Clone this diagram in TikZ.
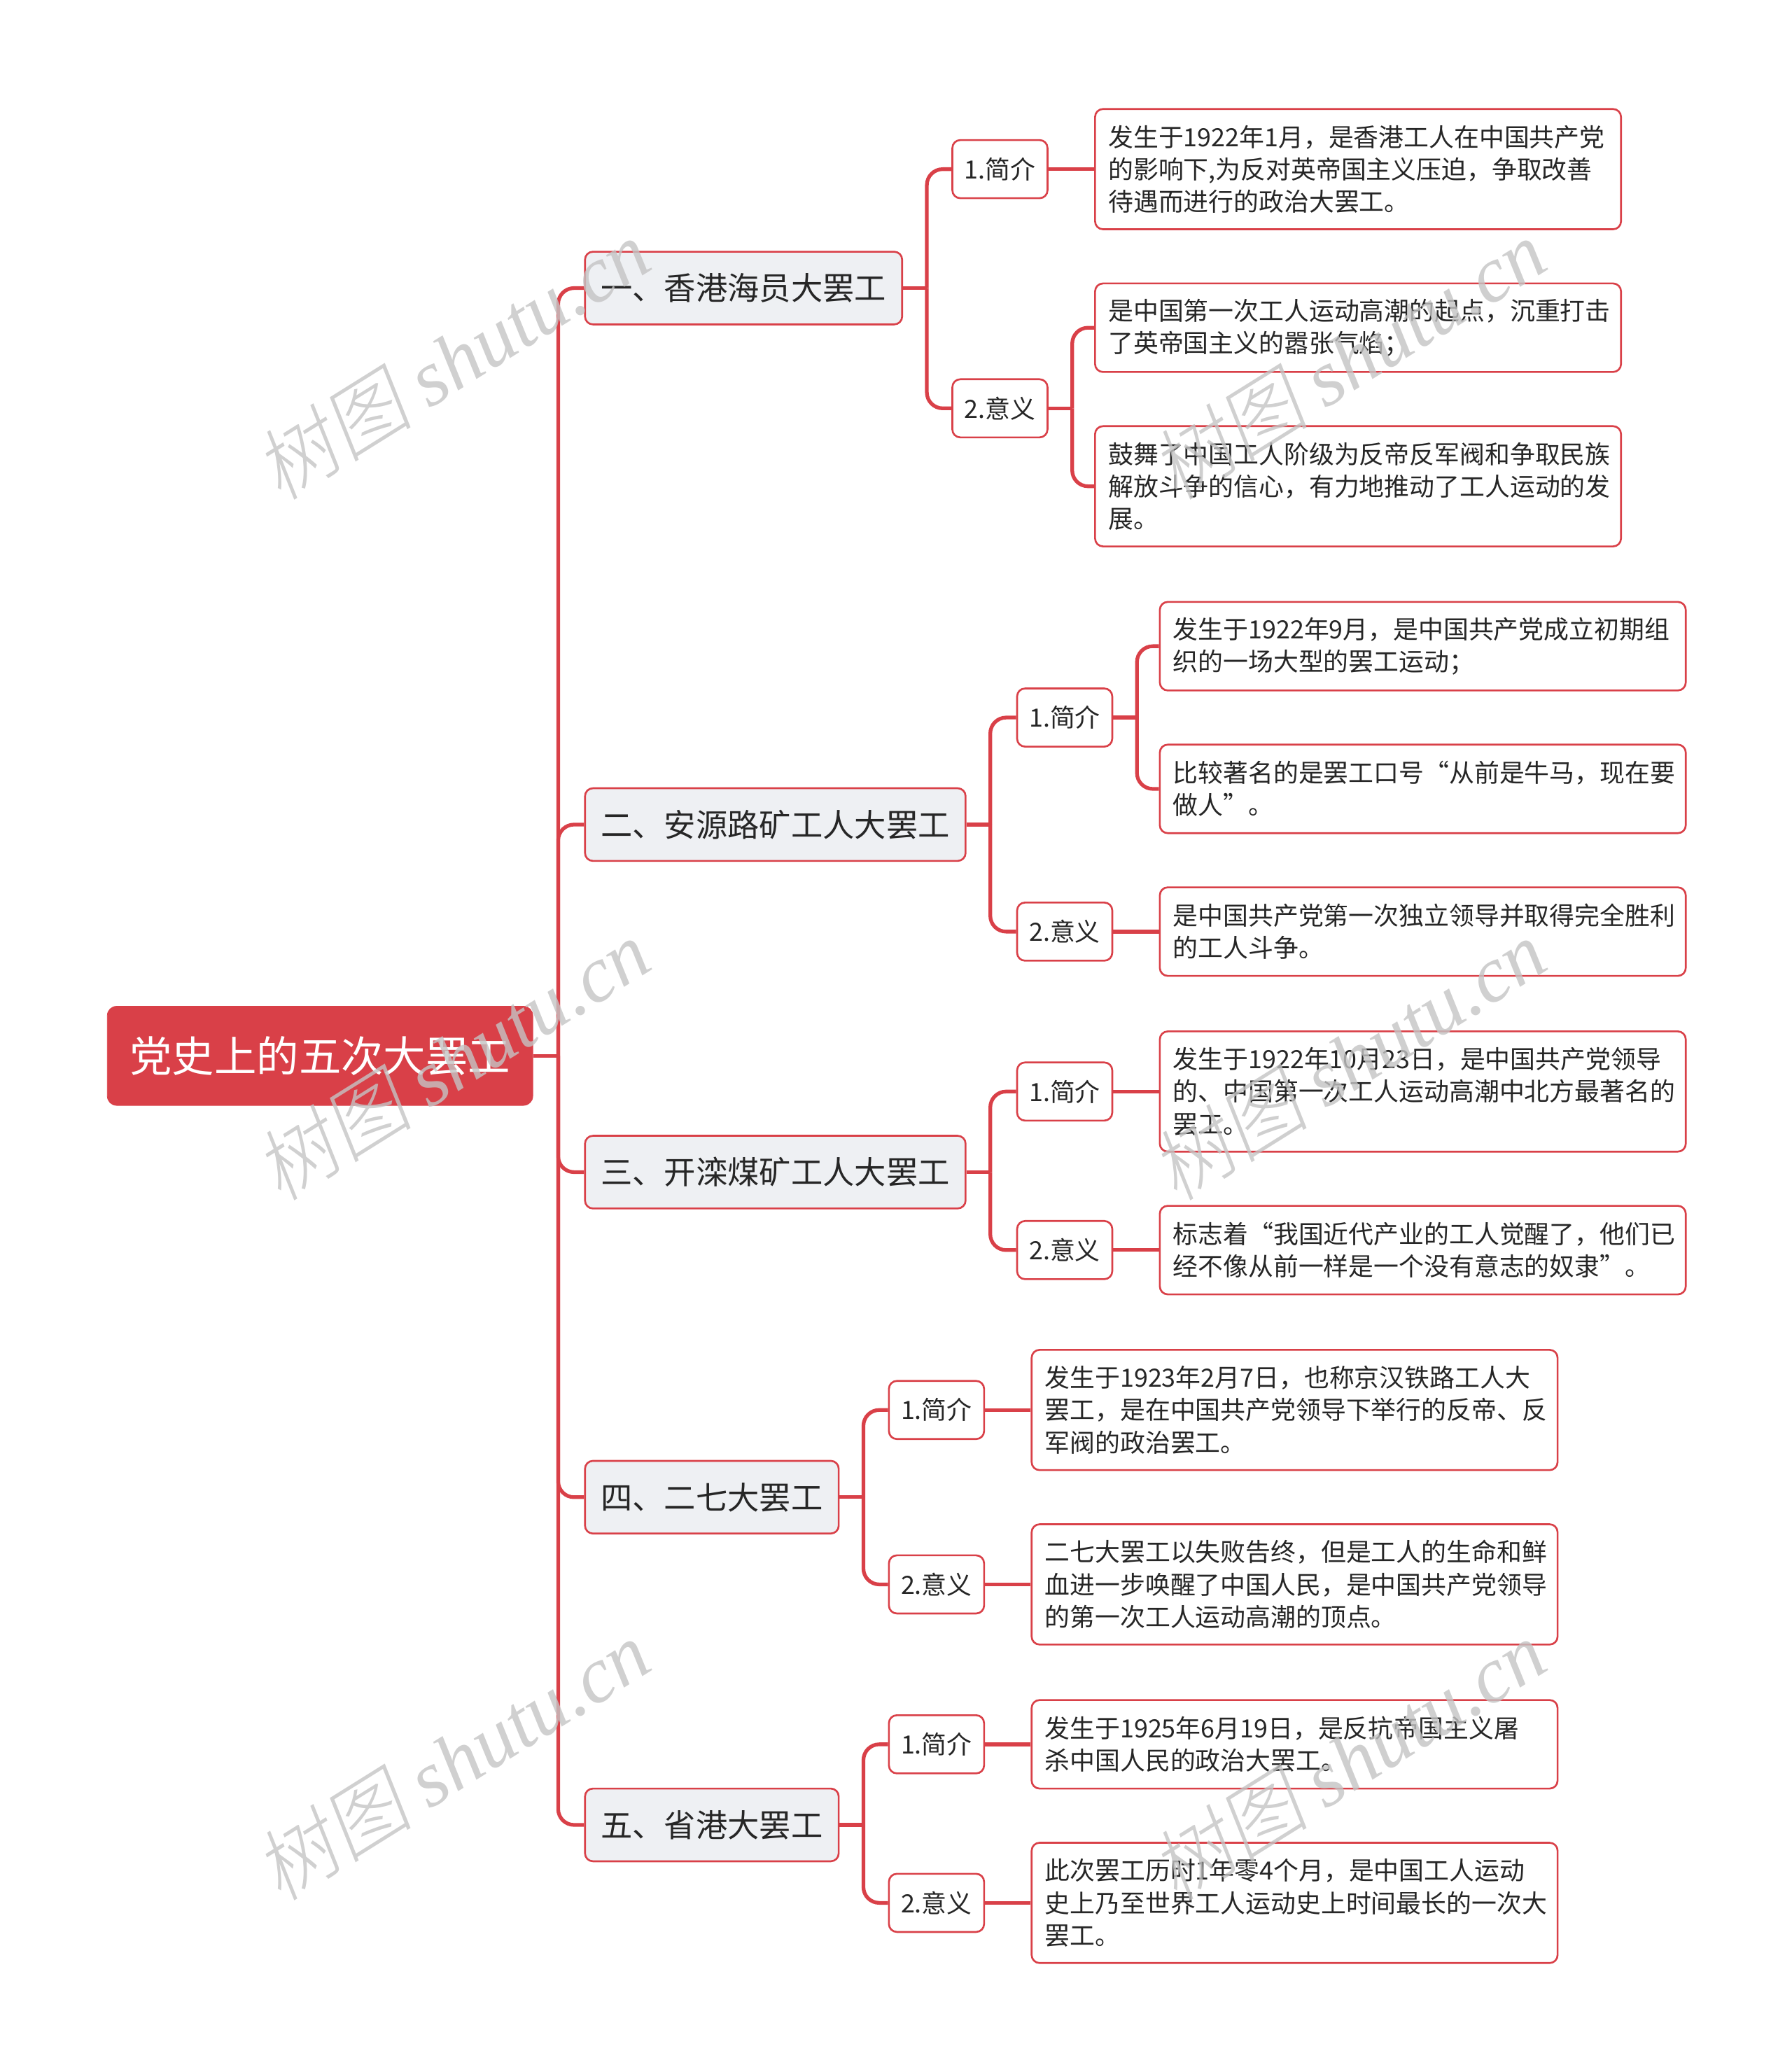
\documentclass[tikz,border=0pt]{standalone}
\usepackage{fontspec}
\setmainfont{Noto Sans CJK SC}
\newfontfamily\wmserif{Liberation Serif Italic}
\newfontfamily\wmcjk[FakeSlant=0.18]{Noto Sans CJK SC Light}
\definecolor{mred}{RGB}{217,64,72}
\definecolor{lgray}{RGB}{238,240,243}
\definecolor{wmgray}{RGB}{196,196,196}
\begin{document}
\begin{tikzpicture}[x=1pt,y=-1pt,
  conn/.style={draw=mred,line width=2.8pt,rounded corners=12pt},
  rootbox/.style={fill=mred,draw=mred,rounded corners=7pt,text=white,
    font=\fontsize{32}{38}\selectfont,minimum height=75pt,inner xsep=17pt,anchor=west},
  lone/.style={fill=lgray,draw=mred,line width=1.4pt,rounded corners=6pt,text=black!85,
    font=\fontsize{24}{28}\selectfont,minimum height=55pt,inner xsep=12pt,anchor=west},
  ltwo/.style={fill=white,draw=mred,line width=1.4pt,rounded corners=6pt,text=black!85,
    font=\fontsize{19}{23}\selectfont,minimum height=44pt,minimum width=72pt,inner xsep=8pt,anchor=west},
  leaf/.style={fill=white,draw=mred,line width=1.4pt,rounded corners=6pt,text=black!85,
    font=\fontsize{19}{24.5}\selectfont,text width=378pt,align=left,
    minimum height=67pt,inner xsep=10pt,inner ysep=6pt,anchor=west},
  leafthree/.style={leaf,minimum height=91pt},
  wm/.style={text=wmgray,font=\fontsize{60}{66}\selectfont,rotate=32,text opacity=0.8}
]
\useasboundingbox (0,0) rectangle (1356,1568);

% root
\node[rootbox] (root) at (81,799) {党史上的五次大罢工};

% level 1
\node[lone] (a) at (442,218) {一、香港海员大罢工};
\node[lone] (b) at (442,624) {二、安源路矿工人大罢工};
\node[lone] (c) at (442,887) {三、开滦煤矿工人大罢工};
\node[lone] (d) at (442,1133) {四、二七大罢工};
\node[lone] (e) at (442,1381) {五、省港大罢工};

% level 2
\node[ltwo] (a1) at (720,128) {1.简介};
\node[ltwo] (a2) at (720,309) {2.意义};
\node[ltwo] (b1) at (769,543) {1.简介};
\node[ltwo] (b2) at (769,705) {2.意义};
\node[ltwo] (c1) at (769,826) {1.简介};
\node[ltwo] (c2) at (769,946) {2.意义};
\node[ltwo] (d1) at (672,1067) {1.简介};
\node[ltwo] (d2) at (672,1199) {2.意义};
\node[ltwo] (e1) at (672,1320) {1.简介};
\node[ltwo] (e2) at (672,1440) {2.意义};

% leaves
\node[leafthree] (a1x) at (828,128) {发生于1922年1月，是香港工人在中国共产党\\的影响下,为反对英帝国主义压迫，争取改善\\待遇而进行的政治大罢工。};
\node[leaf] (a2x) at (828,248) {是中国第一次工人运动高潮的起点，沉重打击\\了英帝国主义的嚣张气焰；};
\node[leafthree] (a2y) at (828,368) {鼓舞了中国工人阶级为反帝反军阀和争取民族\\解放斗争的信心，有力地推动了工人运动的发\\展。};
\node[leaf] (b1x) at (877,489) {发生于1922年9月，是中国共产党成立初期组\\织的一场大型的罢工运动；};
\node[leaf] (b1y) at (877,597) {比较著名的是罢工口号“从前是牛马，现在要\\做人”。};
\node[leaf] (b2x) at (877,705) {是中国共产党第一次独立领导并取得完全胜利\\的工人斗争。};
\node[leafthree] (c1x) at (877,826) {发生于1922年10月23日，是中国共产党领导\\的、中国第一次工人运动高潮中北方最著名的\\罢工。};
\node[leaf] (c2x) at (877,946) {标志着“我国近代产业的工人觉醒了，他们已\\经不像从前一样是一个没有意志的奴隶”。};
\node[leafthree] (d1x) at (780,1067) {发生于1923年2月7日，也称京汉铁路工人大\\罢工，是在中国共产党领导下举行的反帝、反\\军阀的政治罢工。};
\node[leafthree] (d2x) at (780,1199) {二七大罢工以失败告终，但是工人的生命和鲜\\血进一步唤醒了中国人民，是中国共产党领导\\的第一次工人运动高潮的顶点。};
\node[leaf] (e1x) at (780,1320) {发生于1925年6月19日，是反抗帝国主义屠\\杀中国人民的政治大罢工。};
\node[leafthree] (e2x) at (780,1440) {此次罢工历时1年零4个月，是中国工人运动\\史上乃至世界工人运动史上时间最长的一次大\\罢工。};

% connectors: root to level 1
\draw[conn] (root.east) -- ++(19,0) coordinate (rj);
\foreach \n in {a,b,c,d,e} \draw[conn] (rj) |- (\n.west);

% level 1 to level 2
\draw[conn] (a.east) -- ++(18,0) coordinate (aj);
\draw[conn] (aj) |- (a1.west);
\draw[conn] (aj) |- (a2.west);
\draw[conn] (b.east) -- ++(18,0) coordinate (bj);
\draw[conn] (bj) |- (b1.west);
\draw[conn] (bj) |- (b2.west);
\draw[conn] (c.east) -- ++(18,0) coordinate (cj);
\draw[conn] (cj) |- (c1.west);
\draw[conn] (cj) |- (c2.west);
\draw[conn] (d.east) -- ++(18,0) coordinate (dj);
\draw[conn] (dj) |- (d1.west);
\draw[conn] (dj) |- (d2.west);
\draw[conn] (e.east) -- ++(18,0) coordinate (ej);
\draw[conn] (ej) |- (e1.west);
\draw[conn] (ej) |- (e2.west);

% level 2 to leaves
\draw[conn] (a1.east) -- (a1x.west);
\draw[conn] (a2.east) -- ++(18,0) coordinate (a2j);
\draw[conn] (a2j) |- (a2x.west);
\draw[conn] (a2j) |- (a2y.west);
\draw[conn] (b1.east) -- ++(18,0) coordinate (b1j);
\draw[conn] (b1j) |- (b1x.west);
\draw[conn] (b1j) |- (b1y.west);
\draw[conn] (b2.east) -- (b2x.west);
\draw[conn] (c1.east) -- (c1x.west);
\draw[conn] (c2.east) -- (c2x.west);
\draw[conn] (d1.east) -- (d1x.west);
\draw[conn] (d2.east) -- (d2x.west);
\draw[conn] (e1.east) -- (e1x.west);
\draw[conn] (e2.east) -- (e2x.west);

% watermarks
\foreach \wx/\wy [count=\i] in {342/272,342/802,342/1332,1020/272,1020/802,1020/1332}
  \node[wm] (w\i) at (\wx,\wy) {{\wmcjk 树图} {\wmserif shutu.cn}};
\end{tikzpicture}
\end{document}
